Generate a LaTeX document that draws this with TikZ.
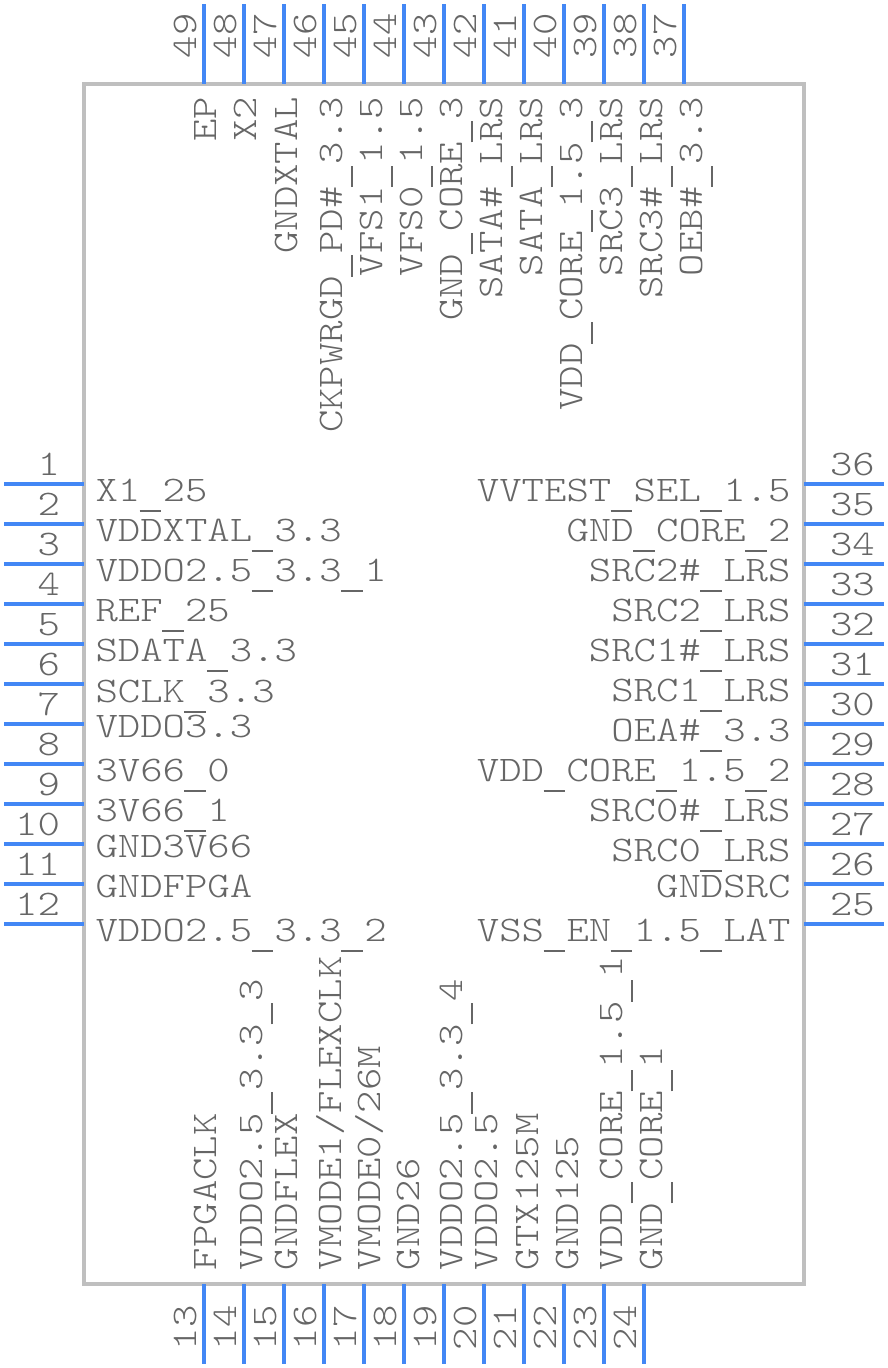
\documentclass[tikz,border=0pt]{standalone}
\usepackage{fontspec}
\setmonofont[FakeStretch=1.185]{Latin Modern Mono Light}
\newcommand{\us}{\rlap{\hspace{-0.6pt}\raisebox{-10.6pt}{\rule{21.5pt}{1.9pt}}}\hspace{22.4pt}}
\tikzset{
  x=1pt,y=-1pt,
  pinline/.style={draw=pinblue,line width=4pt,line cap=butt},
  lab/.style={inner sep=0pt,outer sep=0pt,text=labgray,font=\fontsize{36}{36}\selectfont\ttfamily},
}
\definecolor{pinblue}{HTML}{4287F5}
\definecolor{boxgray}{HTML}{BFBFBF}
\definecolor{labgray}{HTML}{666666}
\begin{document}
\begin{tikzpicture}
\useasboundingbox (0,0) rectangle (888,1368);
\node[draw=boxgray,line width=4pt,minimum width=720pt,minimum height=1200pt,inner sep=0pt,line join=miter] (body) at (444,684) {};
% left pins
\foreach \n/\yy/\by/\t in {1/484/501/X1\us 25,2/524/541/VDDXTAL\us 3.3,3/564/581/VDDO2.5\us 3.3\us 1,4/604/621/REF\us 25,5/644/661/SDATA\us 3.3,6/684/702/SCLK\us 3.3,7/724/737/VDDO3.3,8/764/781/3V66\us 0,9/804/821/3V66\us 1,10/844/857/GND3V66,11/884/897/GNDFPGA,12/924/941/VDDO2.5\us 3.3\us 2}{
  \coordinate (p\n a) at (4,\yy); \coordinate (p\n b) at (84,\yy);
  \draw[pinline] (p\n a) -- (p\n b);
  \node[lab,anchor=base east] (n\n) at (60,\yy-9) {\n};
  \node[lab,anchor=base west] (l\n) at (95.5,\by) {\t};
}
% right pins
\foreach \n/\yy/\by/\t in {36/484/501/VVTEST\us SEL\us 1.5,35/524/541/GND\us CORE\us 2,34/564/581/SRC2\#\us LRS,33/604/621/SRC2\us LRS,32/644/661/SRC1\#\us LRS,31/684/701/SRC1\us LRS,30/724/741/OEA\#\us 3.3,29/764/781/VDD\us CORE\us 1.5\us 2,28/804/821/SRC0\#\us LRS,27/844/861/SRC0\us LRS,26/884/897/GNDSRC,25/924/941/VSS\us EN\us 1.5\us LAT}{
  \coordinate (p\n a) at (804,\yy); \coordinate (p\n b) at (884,\yy);
  \draw[pinline] (p\n a) -- (p\n b);
  \node[lab,anchor=base west] (n\n) at (830,\yy-9) {\n};
  \node[lab,anchor=base east] (l\n) at (790.5,\by) {\t};
}
% top pins
\foreach \n/\xx/\bx/\t in {49/204/216/EP,48/244/256/X2,47/284/297/GNDXTAL,46/324/342/CKPWRGD\us PD\#\us 3.3,45/364/382/VFS1\us 1.5,44/404/422/VFS0\us 1.5,43/444/462/GND\us CORE\us 3,42/484/502/SATA\#\us LRS,41/524/542/SATA\us LRS,40/564/582/VDD\us CORE\us 1.5\us 3,39/604/622/SRC3\us LRS,38/644/662/SRC3\#\us LRS,37/684/702/OEB\#\us 3.3}{
  \coordinate (p\n a) at (\xx,4); \coordinate (p\n b) at (\xx,84);
  \draw[pinline] (p\n a) -- (p\n b);
  \node[lab,rotate=90,anchor=base west] (n\n) at (\xx-8,58) {\n};
  \node[lab,rotate=90,anchor=base east] (l\n) at (\bx,97) {\t};
}
% bottom pins
\foreach \n/\xx/\bx/\t in {13/204/216/FPGACLK,14/244/262/VDDO2.5\us 3.3\us 3,15/284/297/GNDFLEX,16/324/341/{VMODE1/FLEXCLK},17/364/380/{VMODE0/26M},18/404/419/GND26,19/444/462/VDDO2.5\us 3.3\us 4,20/484/497/VDDO2.5,21/524/538/GTX125M,22/564/578/GND125,23/604/622/VDD\us CORE\us 1.5\us 1,24/644/662/GND\us CORE\us 1}{
  \coordinate (p\n a) at (\xx,1284); \coordinate (p\n b) at (\xx,1364);
  \draw[pinline] (p\n a) -- (p\n b);
  \node[lab,rotate=90,anchor=base west] (n\n) at (\xx-8,1350) {\n};
  \node[lab,rotate=90,anchor=base west] (l\n) at (\bx,1270) {\t};
}
\end{tikzpicture}
\end{document}
